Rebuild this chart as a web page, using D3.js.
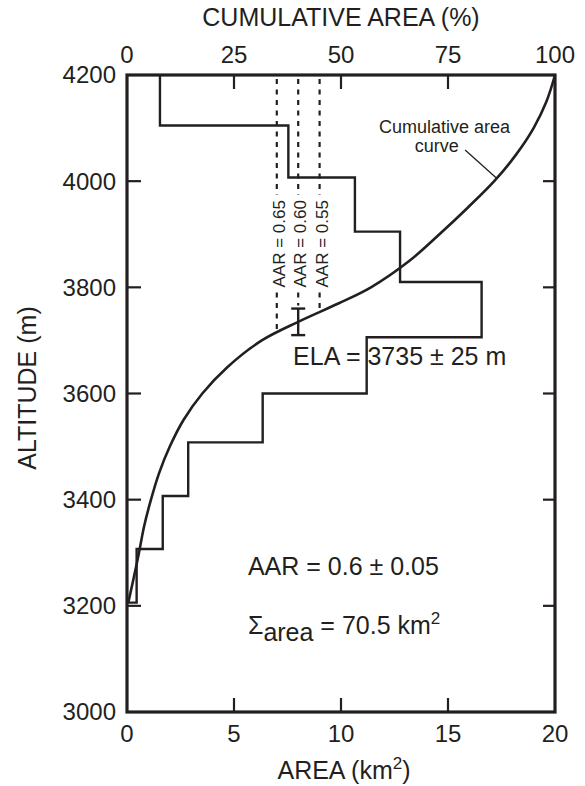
<!DOCTYPE html>
<html><head><meta charset="utf-8">
<script src="https://cdn.jsdelivr.net/npm/d3@7"></script>
<style>
html,body{margin:0;padding:0;background:#fff;}
text{font-family:"Liberation Sans",Arial,Helvetica,sans-serif;fill:#231f20;}
</style></head>
<body><svg id="c" width="585" height="786"></svg>
<script>
// ---- data ----
const altitudeTicks = [3000, 3200, 3400, 3600, 3800, 4000, 4200];
const areaTicks = [0, 5, 10, 15, 20];
const cumTicks = [0, 25, 50, 75, 100];
// hypsometry bands (top / bottom altitude in m, area km2)
const bandTop    = [4200, 4105, 4007, 3905, 3810, 3706, 3600, 3508, 3407, 3307];
const bandBottom = [4105, 4007, 3905, 3810, 3706, 3600, 3508, 3407, 3307, 3206];
const bandArea   = [1.54, 7.54, 10.65, 12.76, 16.57, 11.2, 6.34, 2.86, 1.67, 0.45];
// cumulative area curve (altitude m, cumulative %)
const cumAlt = [3206, 3250, 3300, 3350, 3400, 3450, 3500, 3550, 3600, 3650, 3700, 3735, 3770, 3800, 3850, 3900, 3950, 4000, 4050, 4100, 4150, 4200];
const cumPct = [0.3, 1.5, 2.8, 4.0, 5.6, 7.5, 10.0, 13.2, 17.6, 23.5, 31.5, 40.0, 49.5, 57.0, 66.0, 73.0, 79.6, 85.8, 90.9, 95.0, 98.0, 100];
// AAR lines
const aarValues = [0.65, 0.60, 0.55];
const aarLabels = ["AAR = 0.65", "AAR = 0.60", "AAR = 0.55"];
const ela = 3735, elaErr = 25;

// ---- layout ----
const svg = d3.select("#c");
const L = 127, R = 555, T = 75, B = 712;
const x = d3.scaleLinear().domain([0, 20]).range([L, R]);
const xc = d3.scaleLinear().domain([0, 100]).range([L, R]);
const y = d3.scaleLinear().domain([3000, 4200]).range([B, T]);
const ink = "#231f20";
const FS = 24, FT = 25;

function altAtPct(p){
  for (let i = 1; i < cumPct.length; i++){
    if (cumPct[i] >= p){
      const t = (p - cumPct[i-1]) / (cumPct[i] - cumPct[i-1]);
      return cumAlt[i-1] + t * (cumAlt[i] - cumAlt[i-1]);
    }
  }
  return cumAlt[cumAlt.length-1];
}

// hypsometry step line
const stepPts = [];
bandArea.forEach((a, i) => {
  stepPts.push([a, bandTop[i]]);
  stepPts.push([a, bandBottom[i]]);
});
stepPts.push([0, bandBottom[bandBottom.length-1]]);
svg.append("path")
  .attr("d", d3.line().x(d => x(d[0])).y(d => y(d[1]))(stepPts))
  .attr("fill", "none").attr("stroke", ink).attr("stroke-width", 2.4)
  .attr("stroke-linejoin", "miter");

// cumulative curve
const cumData = cumAlt.map((a, i) => [cumPct[i], a]);
svg.append("path")
  .attr("d", d3.line().x(d => xc(d[0])).y(d => y(d[1])).curve(d3.curveCatmullRom.alpha(0.5))(cumData))
  .attr("fill", "none").attr("stroke", ink).attr("stroke-width", 2.6);

// AAR dashed lines with rotated labels
const labelAlt = 3882;
aarValues.forEach((v, i) => {
  const p = (1 - v) * 100;
  const px = xc(p);
  const g = svg.append("g");
  const t = g.append("text")
    .attr("transform", `translate(${px + 8},${y(labelAlt)}) rotate(-90)`)
    .attr("text-anchor", "middle")
    .attr("font-size", 17)
    .text(aarLabels[i]);
  const half = t.node().getComputedTextLength() / 2 + 5;
  const endAlt = (i === 1) ? ela + elaErr : altAtPct(p);
  const y1a = y(4200) + 4, y1b = y(labelAlt) - half;
  const y2a = y(labelAlt) + half, y2b = y(endAlt) - 3;
  [[y1a, y1b], [y2a, y2b]].forEach(s => {
    g.append("line").attr("x1", px).attr("x2", px).attr("y1", s[0]).attr("y2", s[1])
      .attr("stroke", ink).attr("stroke-width", 2.2).attr("stroke-dasharray", "5,5.5");
  });
});

// ELA error bar
const ex = xc((1 - aarValues[1]) * 100);
const eb = svg.append("g").attr("stroke", ink).attr("stroke-width", 2.4);
eb.append("line").attr("x1", ex).attr("x2", ex).attr("y1", y(ela + elaErr)).attr("y2", y(ela - elaErr));
eb.append("line").attr("x1", ex - 7).attr("x2", ex + 7).attr("y1", y(ela + elaErr)).attr("y2", y(ela + elaErr));
eb.append("line").attr("x1", ex - 7).attr("x2", ex + 7).attr("y1", y(ela - elaErr)).attr("y2", y(ela - elaErr));

// ---- axes (frame + inward ticks) ----
const tickLen = 14;
const axG = svg.append("g").attr("stroke", ink);
areaTicks.slice(1, -1).forEach(v => {
  axG.append("line").attr("x1", x(v)).attr("x2", x(v)).attr("y1", B).attr("y2", B - tickLen).attr("stroke-width", 2.2);
});
cumTicks.slice(1, -1).forEach(v => {
  axG.append("line").attr("x1", xc(v)).attr("x2", xc(v)).attr("y1", T).attr("y2", T + tickLen).attr("stroke-width", 2.2);
});
altitudeTicks.slice(1, -1).forEach(v => {
  axG.append("line").attr("x1", L).attr("x2", L + tickLen).attr("y1", y(v)).attr("y2", y(v)).attr("stroke-width", 2.2);
  axG.append("line").attr("x1", R).attr("x2", R - tickLen + 2).attr("y1", y(v)).attr("y2", y(v)).attr("stroke-width", 2.2);
});
svg.append("rect").attr("x", L).attr("y", T).attr("width", R - L).attr("height", B - T)
  .attr("fill", "none").attr("stroke", ink).attr("stroke-width", 3.2);

// tick labels
const tl = svg.append("g").attr("font-size", FS);
areaTicks.forEach(v => {
  tl.append("text").attr("x", x(v)).attr("y", B + 30).attr("text-anchor", "middle").text(v);
});
cumTicks.forEach(v => {
  tl.append("text").attr("x", xc(v)).attr("y", T - 12).attr("text-anchor", "middle").text(v);
});
altitudeTicks.forEach(v => {
  tl.append("text").attr("x", L - 11).attr("y", y(v)).attr("dy", "0.35em").attr("text-anchor", "end").text(v);
});

// axis titles
svg.append("text").attr("x", (L + R) / 2).attr("y", 26).attr("text-anchor", "middle").attr("font-size", FT)
  .text("CUMULATIVE AREA (%)");
const xt = svg.append("text").attr("x", (L + R) / 2 + 3).attr("y", 779).attr("text-anchor", "middle").attr("font-size", FT);
xt.append("tspan").text("AREA (km");
xt.append("tspan").attr("font-size", 17).attr("dy", -10).text("2");
xt.append("tspan").attr("dy", 10).text(")");
svg.append("text").attr("transform", `translate(36,388) rotate(-90)`).attr("text-anchor", "middle")
  .attr("font-size", FT).text("ALTITUDE (m)");

// annotations
svg.append("text").attr("x", x(7.76)).attr("y", y(3653)).attr("font-size", FT).text("ELA = 3735 ± 25 m");
svg.append("text").attr("x", x(5.65)).attr("y", y(3258)).attr("font-size", FT).text("AAR = 0.6 ± 0.05");
const st = svg.append("text").attr("x", x(5.65)).attr("y", y(3147)).attr("font-size", FT);
st.append("tspan").text("Σ");
st.append("tspan").attr("dy", 7).text("area");
st.append("tspan").attr("dy", -7).text(" = 70.5 km");
st.append("tspan").attr("font-size", 17).attr("dy", -10).text("2");

// curve label + leader
svg.append("text").attr("x", xc(74.2)).attr("y", y(4090)).attr("text-anchor", "middle").attr("font-size", 18).text("Cumulative area");
svg.append("text").attr("x", xc(72.4)).attr("y", y(4055.5)).attr("text-anchor", "middle").attr("font-size", 18).text("curve");
svg.append("line").attr("x1", xc(79)).attr("y1", y(4058.7)).attr("x2", xc(86.3)).attr("y2", y(4006))
  .attr("stroke", ink).attr("stroke-width", 1.3);
</script></body></html>
